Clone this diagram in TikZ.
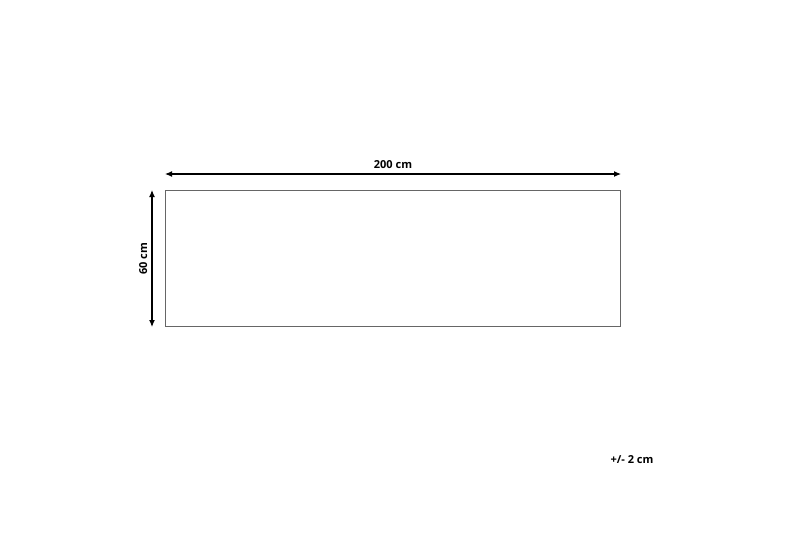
\documentclass[tikz,border=0pt]{standalone}
\usepackage{fontspec}
\setmainfont{Open Sans}
\usetikzlibrary{arrows.meta}
\begin{document}
\begin{tikzpicture}[x=1pt,y=-1pt]
            \useasboundingbox (0,0) rectangle (800,533);
            \begin{scope}[font=\fontsize{11}{13}\selectfont\bfseries]
            % Rug outline:
            \node (rug) [draw=black!60, line width=0.8pt, inner sep=0pt,
                minimum width=455pt, minimum height=136pt] at (393,258.5) {};
            % Dimension arrows:
            \coordinate (wl) at (165,174);
            \coordinate (wr) at (621,174);
            \coordinate (ht) at (152,190);
            \coordinate (hb) at (152,327);
            \draw [{Latex[length=7pt,width=6pt]}-{Latex[length=7pt,width=6pt]}, line width=1.1pt] (wl) -- (wr) node (width) [midway, above=2pt] {200 cm};
            \draw [{Latex[length=7pt,width=6pt]}-{Latex[length=7pt,width=6pt]}, line width=1.1pt] (ht) -- (hb) node (height) [midway, left=1pt, rotate=90, anchor=south] {60 cm};
            \node (tol) at (632,460) {+/- 2 cm};
            \end{scope}
        \end{tikzpicture}
\end{document}
